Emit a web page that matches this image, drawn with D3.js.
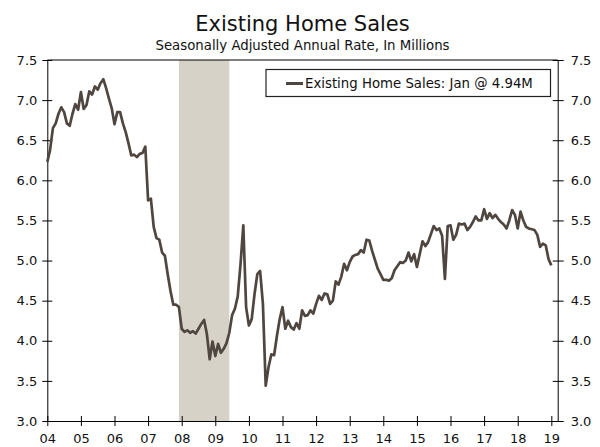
<!DOCTYPE html>
<html>
<head>
<meta charset="utf-8">
<script src="https://cdn.jsdelivr.net/npm/d3@7"></script>
<style>
  body { margin: 0; background: #fff; }
  svg text { font-family: "DejaVu Sans", Verdana, sans-serif; fill: #111; }
</style>
</head>
<body>
<div id="chart"></div>
<script>
// monthly existing home sales, SAAR in millions, Jan 2004 .. Jan 2019
var startYear = 2004;
var sales = [
    6.23, 6.38, 6.65, 6.71, 6.83, 6.91, 6.85, 6.71, 6.68, 6.83, 6.95, 6.88,   // 2004
    7.10, 6.89, 6.94, 7.11, 7.07, 7.17, 7.13, 7.21, 7.26, 7.15, 7.02, 6.90,   // 2005
    6.70, 6.85, 6.85, 6.71, 6.60, 6.46, 6.31, 6.32, 6.29, 6.33, 6.34, 6.42,   // 2006
    5.75, 5.77, 5.42, 5.28, 5.26, 5.10, 5.06, 4.83, 4.62, 4.45, 4.45, 4.42,   // 2007
    4.15, 4.11, 4.13, 4.10, 4.12, 4.09, 4.15, 4.21, 4.26, 4.08, 3.77, 3.99,   // 2008
    3.81, 3.96, 3.85, 3.90, 3.97, 4.10, 4.32, 4.40, 4.55, 4.95, 5.44, 4.42,   // 2009
    4.19, 4.27, 4.58, 4.83, 4.87, 4.46, 3.44, 3.67, 3.83, 3.82, 4.06, 4.27,   // 2010
    4.42, 4.15, 4.25, 4.17, 4.14, 4.22, 4.15, 4.38, 4.31, 4.32, 4.38, 4.34,   // 2011
    4.46, 4.56, 4.51, 4.59, 4.58, 4.46, 4.50, 4.74, 4.70, 4.80, 4.96, 4.88,   // 2012
    4.98, 5.05, 5.07, 5.08, 5.13, 5.10, 5.26, 5.25, 5.12, 5.01, 4.90, 4.83,   // 2013
    4.76, 4.76, 4.75, 4.78, 4.88, 4.93, 4.98, 4.97, 5.00, 5.10, 4.99, 5.08,   // 2014
    4.92, 5.08, 5.24, 5.18, 5.23, 5.33, 5.43, 5.38, 5.40, 5.31, 4.77, 5.43,   // 2015
    5.44, 5.26, 5.32, 5.46, 5.45, 5.46, 5.38, 5.42, 5.48, 5.55, 5.50, 5.50,   // 2016
    5.64, 5.52, 5.59, 5.53, 5.57, 5.52, 5.48, 5.45, 5.40, 5.50, 5.63, 5.57,   // 2017
    5.40, 5.61, 5.50, 5.42, 5.40, 5.39, 5.38, 5.32, 5.17, 5.21, 5.19, 5.02,   // 2018
    4.94                                                                      // 2019
];

// recession Dec 2007 - Jun 2009, as fractional years
var recession = [2007 + 11 / 12, 2009 + 5 / 12];

var yearTicks = d3.range(2004, 2020);
var yTicks = [3.0, 3.5, 4.0, 4.5, 5.0, 5.5, 6.0, 6.5, 7.0, 7.5];

var titleText = "Existing Home Sales";
var subtitleText = "Seasonally Adjusted Annual Rate, In Millions";
var legendText = "Existing Home Sales: Jan @ 4.94M";

var lineColor = "#4f4640";

var width = 600,
    height = 447;

var svg = d3.select("#chart").append("svg")
    .attr("width", width)
    .attr("height", height);

var x = d3.scaleLinear()
    .domain([2004, 2019.19])
    .range([47.3, 557.7]);

var y = d3.scaleLinear()
    .domain([3, 7.5])
    .range([421, 60]);

// recession band
svg.append("rect")
    .attr("x", x(recession[0]))
    .attr("y", y(7.5))
    .attr("width", x(recession[1]) - x(recession[0]))
    .attr("height", y(3) - y(7.5))
    .attr("fill", "#d6d2c8");

// top frame line
svg.append("line")
    .attr("x1", x.range()[0]).attr("x2", x.range()[1])
    .attr("y1", y(7.5)).attr("y2", y(7.5))
    .attr("stroke", "#000");

var fmt = d3.format(".1f");

var left = svg.append("g")
    .attr("transform", "translate(" + x.range()[0] + ",0)")
    .call(d3.axisLeft(y).tickValues(yTicks).tickFormat(fmt).tickSize(5).tickSizeOuter(0).tickPadding(5));
left.selectAll(".tick line").attr("x1", 5);

var right = svg.append("g")
    .attr("transform", "translate(" + x.range()[1] + ",0)")
    .call(d3.axisRight(y).tickValues(yTicks).tickFormat(fmt).tickSize(6).tickSizeOuter(0).tickPadding(7));
right.selectAll(".tick line").attr("x1", -5);

var bottom = svg.append("g")
    .attr("transform", "translate(0," + y(3) + ")")
    .call(d3.axisBottom(x).tickValues(yearTicks)
        .tickFormat(function(d) { return String(d).slice(2); })
        .tickSize(5).tickSizeOuter(0).tickPadding(8));
bottom.selectAll(".tick line").attr("y1", -5);

svg.selectAll(".domain, .tick line").attr("stroke", "#000");
svg.selectAll(".tick text").style("font-size", "13px").attr("fill", "#111");

// series line
var line = d3.line()
    .x(function(d, i) { return x(startYear + i / 12); })
    .y(function(d) { return y(d); });

svg.append("path")
    .datum(sales)
    .attr("d", line)
    .attr("fill", "none")
    .attr("stroke", lineColor)
    .attr("stroke-width", 2.7)
    .attr("stroke-linejoin", "round");

// titles
var cx = (x.range()[0] + x.range()[1]) / 2;
svg.append("text")
    .attr("x", cx).attr("y", 30.5)
    .attr("text-anchor", "middle")
    .style("font-size", "21px")
    .text(titleText);

svg.append("text")
    .attr("x", cx).attr("y", 50)
    .attr("text-anchor", "middle")
    .style("font-size", "13.3px")
    .text(subtitleText);

// legend
var legend = svg.append("g");
legend.append("rect")
    .attr("x", 266).attr("y", 69.5)
    .attr("width", 284.5).attr("height", 27)
    .attr("fill", "#fff")
    .attr("stroke", "#222")
    .attr("stroke-width", 1.2);
legend.append("line")
    .attr("x1", 286).attr("x2", 303)
    .attr("y1", 83.5).attr("y2", 83.5)
    .attr("stroke", lineColor)
    .attr("stroke-width", 3);
legend.append("text")
    .attr("x", 305).attr("y", 88)
    .style("font-size", "13.3px")
    .text(legendText);
</script>
</body>
</html>
